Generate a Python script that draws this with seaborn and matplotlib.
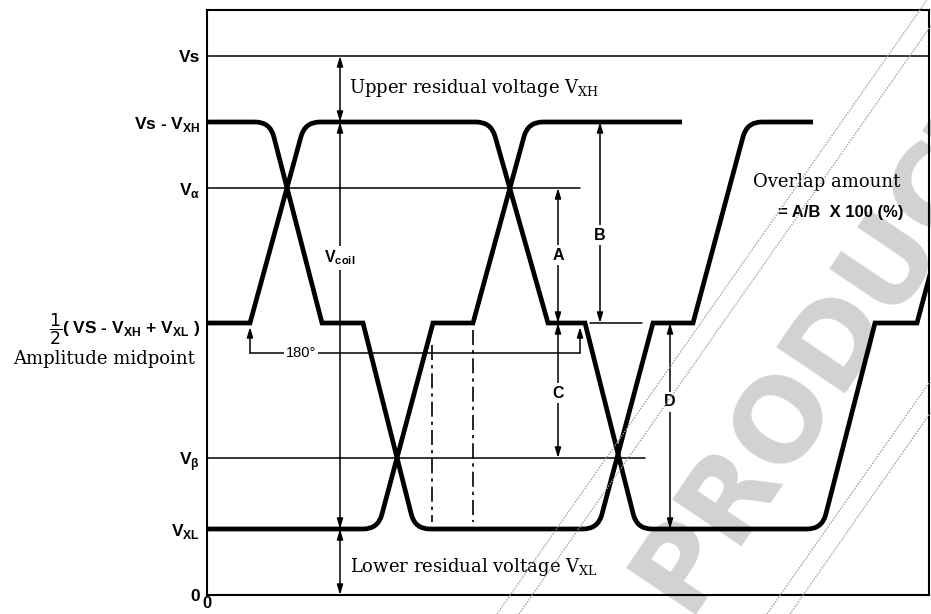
import matplotlib
matplotlib.use("Agg")
import matplotlib.pyplot as plt
import seaborn as sns
from matplotlib.path import Path
from matplotlib.patches import PathPatch
from matplotlib.lines import Line2D

# voltage levels (arbitrary units, 0 = bottom of the plot)
V_S = 539
V_HIGH = 473    # Vs - VXH
V_ALPHA = 407
V_MID = 272     # amplitude midpoint
V_BETA = 137
V_LOW = 66      # VXL

# coil waveforms: corner points (time, level)
wave_a_t = [0, 63, 115, 156, 208, 391, 446, 486, 540, 606]
wave_a_v = [V_HIGH, V_HIGH, V_MID, V_MID, V_LOW, V_LOW, V_MID, V_MID, V_HIGH, V_HIGH]
wave_b_t = [0, 43, 98, 284, 341, 378, 430, 615, 668, 710, 764]
wave_b_v = [V_MID, V_MID, V_HIGH, V_HIGH, V_MID, V_MID, V_LOW, V_LOW, V_MID, V_MID, V_HIGH]
wave_c_t = [0, 171, 226, 266, 321, 475]
wave_c_v = [V_LOW, V_LOW, V_MID, V_MID, V_HIGH, V_HIGH]

# thin reference lines: level and where they stop
ref_levels = [V_S, V_ALPHA, V_BETA]
ref_ends = [722, 373, 438]

# y axis labels
tick_values = [0, V_LOW, V_BETA, V_MID, V_ALPHA, V_HIGH, V_S]
tick_labels = [
    "0",
    r"V$_{\mathregular{XL}}$",
    r"V$_{\mathregular{β}}$",
    r"$\dfrac{1}{2}$( VS - V$_{\mathregular{XH}}$ + V$_{\mathregular{XL}}$ )",
    r"V$_{\mathregular{α}}$",
    r"Vs - V$_{\mathregular{XH}}$",
    "Vs",
]

# dimension arrows: (time, from level, to level, label, label level)
dims = [
    (133, V_S, V_HIGH, "", 0),
    (133, V_HIGH, V_LOW, r"V$_{\mathregular{coil}}$", 337),
    (133, V_LOW, 0, "", 0),
    (351, V_ALPHA, V_MID, "A", 340),
    (351, V_MID, V_BETA, "C", 202),
    (393, V_HIGH, V_MID, "B", 360),
    (463, V_MID, V_LOW, "D", 193),
]

# 180 degree bracket and step markers
bracket_t = [43, 373]
bracket_level = 242
step_t = [225, 266]
step_top = [250, 265]
step_bottom = 73

SANS = ["Liberation Sans", "DejaVu Sans"]
SERIF = ["DejaVu Serif"]


def rounded_path(ts, vs, r=15):
    # sharp corners at the midpoint, rounded corners at the top/bottom levels
    verts = [(ts[0], vs[0])]
    codes = [Path.MOVETO]
    for i in range(1, len(ts) - 1):
        px, py = ts[i], vs[i]
        if py == V_MID:
            verts.append((px, py))
            codes.append(Path.LINETO)
            continue
        ax_, ay_ = ts[i - 1], vs[i - 1]
        bx_, by_ = ts[i + 1], vs[i + 1]
        la = ((ax_ - px) ** 2 + (ay_ - py) ** 2) ** 0.5
        lb = ((bx_ - px) ** 2 + (by_ - py) ** 2) ** 0.5
        p1 = (px + r * (ax_ - px) / la, py + r * (ay_ - py) / la)
        p2 = (px + r * (bx_ - px) / lb, py + r * (by_ - py) / lb)
        verts += [p1, (px, py), p2]
        codes += [Path.LINETO, Path.CURVE3, Path.CURVE3]
    verts.append((ts[-1], vs[-1]))
    codes.append(Path.LINETO)
    return Path(verts, codes)


sns.set_style("white")
plt.rcParams["font.family"] = SANS
plt.rcParams["text.color"] = "black"
plt.rcParams["xtick.color"] = "black"
plt.rcParams["ytick.color"] = "black"

fig = plt.figure(figsize=(9.31, 6.14), dpi=100)
ax = fig.add_axes([207 / 931, 19 / 614, 722 / 931, 585 / 614])
ax.set_xlim(0, 722)
ax.set_ylim(0, 585)

# watermark
ax.text(832 / 931, 272 / 614, "PRODUCT", transform=fig.transFigure, rotation=56,
        rotation_mode="anchor", ha="center", va="center", fontsize=82,
        fontweight="bold", color="#d2d2d2", family=["DejaVu Sans"],
        zorder=0.5, clip_on=False)
for (x0, y0), (x1, y1) in [((497, 614), (927, 0)), ((519, 614), (949, 0)),
                           ((767, 614), (931, 380)), ((790, 614), (931, 412))]:
    fig.add_artist(Line2D([x0 / 931, x1 / 931], [1 - y0 / 614, 1 - y1 / 614],
                          transform=fig.transFigure, color="#a0a0a0", lw=1.0,
                          ls=(0, (1, 1)), zorder=0.5))

# reference lines
for lvl, end in zip(ref_levels, ref_ends):
    sns.lineplot(x=[0, end], y=[lvl, lvl], ax=ax, color="black", lw=1.1,
                 estimator=None, sort=False)
sns.lineplot(x=[383, 435], y=[V_MID, V_MID], ax=ax, color="black", lw=1.1,
             estimator=None, sort=False)

# waveforms
for ts, vs in [(wave_a_t, wave_a_v), (wave_b_t, wave_b_v), (wave_c_t, wave_c_v)]:
    ax.add_patch(PathPatch(rounded_path(ts, vs), fill=False, lw=3.4,
                           edgecolor="black", capstyle="butt", joinstyle="miter",
                           zorder=3))

# dimension arrows
arrow_kw = dict(arrowstyle="<|-|>,head_length=0.6,head_width=0.18",
                color="black", lw=1.1, shrinkA=0, shrinkB=0, mutation_scale=10)
for t, a, b, lab, ly in dims:
    ax.annotate("", xy=(t, b), xytext=(t, a), arrowprops=arrow_kw, zorder=2)
    if lab:
        ax.text(t, ly, lab, ha="center", va="center", fontsize=11.5,
                fontweight="bold", zorder=4,
                bbox=dict(facecolor="white", edgecolor="none", pad=2))

# 180 degree bracket
single_kw = dict(arrowstyle="-|>,head_length=0.6,head_width=0.18",
                 color="black", lw=1.1, shrinkA=0, shrinkB=0, mutation_scale=10)
sns.lineplot(x=bracket_t, y=[bracket_level, bracket_level], ax=ax,
             color="black", lw=1.1, estimator=None, sort=False)
for t in bracket_t:
    ax.annotate("", xy=(t, V_MID - 4), xytext=(t, bracket_level),
                arrowprops=single_kw)
ax.text(94, bracket_level, "180°", ha="center", va="center", fontsize=10.5,
        zorder=4, bbox=dict(facecolor="white", edgecolor="none", pad=1))

for t, top in zip(step_t, step_top):
    ax.plot([t, t], [top, step_bottom], color="black", lw=1.2,
            ls=(0, (9, 3, 2, 3)))

# annotations
ax.text(142, 507, r"Upper residual voltage V$_{\mathregular{XH}}$",
        family=SERIF, fontsize=13, va="center", ha="left")
ax.text(143, 28, r"Lower residual voltage V$_{\mathregular{XL}}$",
        family=SERIF, fontsize=13, va="center", ha="left")
ax.text(546, 413, "Overlap amount", family=SERIF, fontsize=13,
        va="center", ha="left", zorder=4)
ax.text(571, 382, "= A/B  X 100 (%)", fontsize=12, fontweight="bold",
        va="center", ha="left", zorder=4)
ax.text(-12, 236, "Amplitude midpoint", family=SERIF, fontsize=13,
        va="center", ha="right", clip_on=False)

# axes
ax.set_yticks(tick_values)
ax.set_yticklabels(tick_labels, fontsize=12.5, fontweight="bold")
ax.set_xticks([0])
ax.set_xticklabels(["0"], fontsize=12, fontweight="bold")
ax.tick_params(length=0, pad=5)
ax.tick_params(axis="x", pad=1)
for sp in ax.spines.values():
    sp.set_visible(True)
    sp.set_color("black")
    sp.set_linewidth(1.5)

fig.savefig("out.png", dpi=100)
